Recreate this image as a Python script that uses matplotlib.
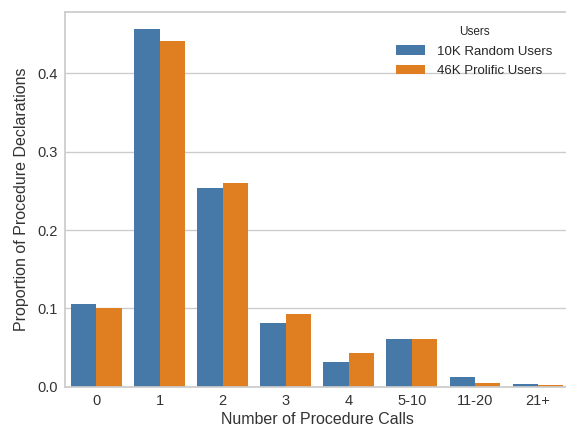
import numpy as np
import pandas as pd
import matplotlib
matplotlib.use("Agg")
import matplotlib.pyplot as plt
import seaborn as sns

# ================== DATA ==================
categories = ["0", "1", "2", "3", "4", "5-10", "11-20", "21+"]
random_users = [0.106, 0.456, 0.254, 0.081, 0.032, 0.061, 0.013, 0.004]
prolific_users = [0.100, 0.441, 0.260, 0.093, 0.043, 0.061, 0.005, 0.002]
group_names = ["10K Random Users", "46K Prolific Users"]

df = pd.DataFrame({
    "calls": categories * 2,
    "prop": random_users + prolific_users,
    "Users": [group_names[0]] * len(categories) + [group_names[1]] * len(categories),
})

# ================== PLOT ==================
sns.set_theme(style="whitegrid")
plt.rcParams["font.family"] = ["Liberation Sans", "DejaVu Sans"]

fig = plt.figure(figsize=(5.66, 4.28), dpi=100)
ax = fig.add_axes([0.1148, 0.096, 0.891, 0.876])

sns.barplot(data=df, x="calls", y="prop", hue="Users", ax=ax,
            palette=["#4779a8", "#e07f22"], saturation=1, linewidth=0)

ax.set_xlabel("Number of Procedure Calls", fontsize=11.5, color="#333333", labelpad=3)
ax.set_ylabel("Proportion of Procedure Declarations", fontsize=11.5, color="#333333", labelpad=6)
ax.tick_params(axis="both", labelsize=10.5, colors="#333333", length=0, pad=5)
ax.set_yticks([0.0, 0.1, 0.2, 0.3, 0.4])
ax.set_ylim(0, 0.478)

for sp in ax.spines.values():
    sp.set_color("#cccccc")

leg = ax.legend(title="Users", frameon=False, loc="upper right", fontsize=9.5,
                title_fontsize=8.5, bbox_to_anchor=(0.99, 0.994), labelspacing=0.55,
                handlelength=2.2, handletextpad=0.9)

fig.savefig("out.png", dpi=100)
